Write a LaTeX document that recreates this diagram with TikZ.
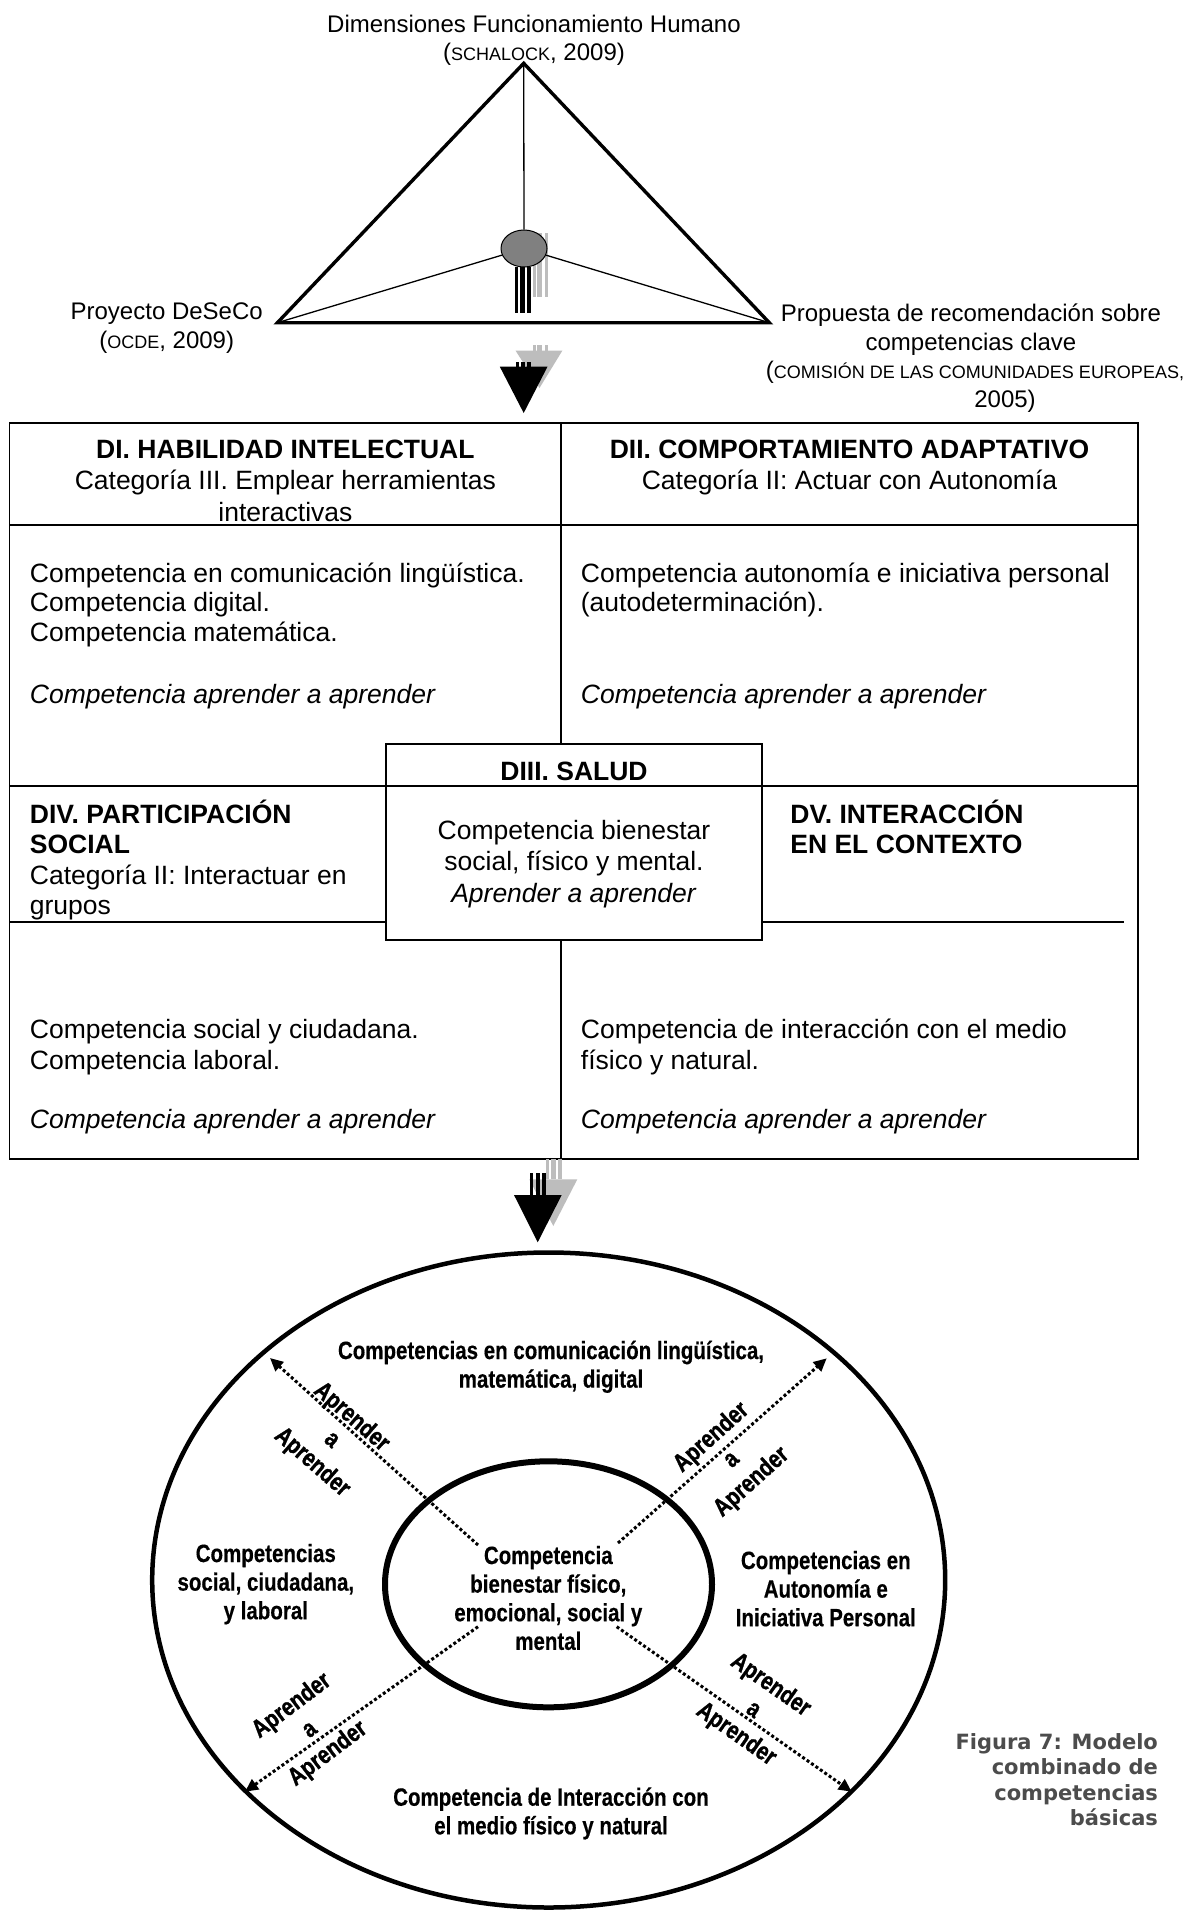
\documentclass[tikz,border=0pt]{standalone}
\usepackage{fontspec}
\setmainfont{Liberation Sans}
\newfontfamily\narrowsans[FakeStretch=0.82,FakeBold=0.4]{Liberation Sans}
\newfontfamily\heavynarrow[FakeStretch=0.82,FakeBold=1.1]{Liberation Sans}
\newfontfamily\captionsans{DejaVu Sans}
\usetikzlibrary{arrows.meta,shapes.geometric}

\definecolor{shadegray}{gray}{0.74}
\definecolor{hubgray}{gray}{0.5}
\definecolor{captiongray}{gray}{0.3}

% reduced capitals used in the references
\newcommand\refcaps[1]{{\fontsize{9pt}{10pt}\selectfont #1}}

% multi-line nodes below are anchored on the baseline of their last line
\begin{document}
\begin{tikzpicture}[x=0.5pt,y=-0.5pt,
  triline/.style={line width=1.7pt, line join=miter},
  spoke/.style={line width=0.65pt},
  boxline/.style={line width=0.85pt},
  shade/.style={fill=shadegray},
  reflabel/.style={inner sep=0pt, align=center, anchor=base,
    font=\fontsize{12pt}{14.2pt}\selectfont},
  cellhead/.style={inner sep=0pt, align=center, anchor=base,
    font=\fontsize{13.25pt}{15.75pt}\selectfont},
  celltext/.style={inner sep=0pt, align=left, anchor=base west,
    font=\fontsize{13.25pt}{15pt}\selectfont},
  ringtext/.style={inner sep=0pt, align=center, anchor=base,
    font=\narrowsans\bfseries\fontsize{12.5pt}{14.3pt}\selectfont},
  aaptext/.style={inner sep=0pt, align=center,
    font=\heavynarrow\bfseries\fontsize{12.5pt}{15pt}\selectfont},
  dotarrow/.style={line width=1.5pt, dash pattern=on 1.5pt off 1.2pt,
    -{Triangle[length=6.5pt,width=6pt]}},
]
\fill[white] (0,0) rectangle (1204,1912);
\useasboundingbox (0,0) rectangle (1204,1912);

% ---------- triangle of sources ----------
\coordinate (apex) at (523.7,63.3);
\coordinate (vl) at (277.4,322.7);
\coordinate (vr) at (769.3,322.7);

% grey shadow stripes behind the hub
\fill[shade] (532.5,233) rectangle (535.5,297);
\fill[shade] (537,233) rectangle (542,297);
\fill[shade] (544.5,233) rectangle (548,297);

\node (hub) [ellipse, draw, line width=0.5pt, fill=hubgray, inner sep=0pt,
  minimum width=23pt, minimum height=18.5pt] at (524,248.5) {};
\draw[spoke] (apex) -- (hub.north);
\draw[spoke] (hub) -- (vl);
\draw[spoke] (hub) -- (vr);
\draw[triline] (apex) -- (vl) -- (vr) -- cycle;

% black stripes under the hub
\fill (515,267) rectangle (518.4,313);
\fill (520.2,267) rectangle (524.7,313);
\fill (527.2,267) rectangle (530.7,313);

\node[reflabel] (tdim) at (534,60.4) {Dimensiones Funcionamiento Humano\\(\refcaps{SCHALOCK}, 2009)};
\node[reflabel] (tdes) at (166.7,348) {Proyecto DeSeCo\\(\refcaps{OCDE}, 2009)};
\node[reflabel] (tcom) at (971,350) {Propuesta de recomendación sobre\\competencias clave};
\node[reflabel] (tcom2) at (975,378.5) {(\refcaps{COMISIÓN DE LAS COMUNIDADES EUROPEAS,}};
\node[reflabel] (tcom3) at (1005,407) {2005)};

% ---------- first down arrow ----------
\fill[shade] (532.5,345) rectangle (535.5,350.7);
\fill[shade] (537,345) rectangle (542,350.7);
\fill[shade] (544.5,345) rectangle (548,350.7);
\fill[shade] (515.6,350.7) -- (562.3,350.7) -- (539.5,388) -- cycle;
\fill (515.6,361.7) rectangle (518.6,366.7);
\fill (520.6,361.7) rectangle (524.6,366.7);
\fill (527.2,361.7) rectangle (530.7,366.7);
\fill (499.8,366.7) -- (547.5,366.7) -- (523.7,413) -- cycle;

% ---------- table of dimensions ----------
\draw[boxline] (9.5,423) rectangle (1138,1159);
\draw[boxline] (9.5,525) -- (1138,525);
\draw[boxline] (561,423) -- (561,744);
\draw[boxline] (561,940) -- (561,1159);
\draw[boxline] (9.5,786) -- (1138,786);
\draw[boxline] (9.5,922) -- (386,922);
\draw[boxline] (762,922) -- (1123.5,922);
\draw[boxline] (386,744) rectangle (762,940);

\node[cellhead] (h1) at (285.4,521) {\textbf{DI. HABILIDAD INTELECTUAL}\\Categoría III. Emplear herramientas\\interactivas};
\node[cellhead] (h2) at (849.5,489.5) {\textbf{DII. COMPORTAMIENTO ADAPTATIVO}\\Categoría II: Actuar con Autonomía};
\node[celltext, font=\fontsize{13.25pt}{14.75pt}\selectfont] (b1) at (29.5,641) {Competencia en comunicación lingüística.\\Competencia digital.\\Competencia matemática.};
\node[celltext] (i1) at (29.5,703) {\textit{Competencia aprender a aprender}};
\node[celltext, font=\fontsize{13.25pt}{14.75pt}\selectfont] (b2) at (580.5,611.5) {Competencia autonomía e iniciativa personal\\(autodeterminación).};
\node[celltext] (i2) at (580.5,703) {\textit{Competencia aprender a aprender}};

\node[cellhead] (h3) at (574,780.5) {\textbf{DIII. SALUD}};
\node[cellhead, font=\fontsize{13.25pt}{15.8pt}\selectfont] (b3) at (574,902.5) {Competencia bienestar\\social, físico y mental.\\\textit{Aprender a aprender}};

\node[celltext, font=\fontsize{13.25pt}{15.15pt}\selectfont] (h4) at (29.5,914.4) {\textbf{DIV. PARTICIPACIÓN}\\\textbf{SOCIAL}\\Categoría II: Interactuar en\\grupos};
\node[celltext, font=\fontsize{13.25pt}{15.15pt}\selectfont] (h5) at (790,853.8) {\textbf{DV. INTERACCIÓN}\\\textbf{EN EL CONTEXTO}};

\node[celltext, font=\fontsize{13.25pt}{15.25pt}\selectfont] (b4) at (29.5,1069) {Competencia social y ciudadana.\\Competencia laboral.};
\node[celltext] (i4) at (29.5,1128.5) {\textit{Competencia aprender a aprender}};
\node[celltext, font=\fontsize{13.25pt}{15.25pt}\selectfont] (b5) at (580.5,1069) {Competencia de interacción con el medio\\físico y natural.};
\node[celltext] (i5) at (580.5,1128.5) {\textit{Competencia aprender a aprender}};

% ---------- second down arrow ----------
\fill[shade] (546,1159) rectangle (549,1179.3);
\fill[shade] (551,1159) rectangle (555.5,1179.3);
\fill[shade] (558,1159) rectangle (561.7,1179.3);
\fill[shade] (529.3,1179.3) -- (577.3,1179.3) -- (553.3,1226) -- cycle;
\fill (530,1173) rectangle (533.3,1195);
\fill (535.7,1173) rectangle (539.5,1195);
\fill (541.7,1173) rectangle (546,1195);
\fill (514,1195) -- (561.7,1195) -- (537.7,1242.3) -- cycle;

% ---------- combined model ----------
\draw[line width=2.25pt] (548.7,1580) ellipse [x radius=198.25pt, y radius=163.75pt];
\draw[line width=3pt] (548.5,1584.3) ellipse [x radius=81.75pt, y radius=61.5pt];

\coordinate (uls) at (478,1545);   \coordinate (ule) at (270,1358);
\coordinate (urs) at (618,1543);   \coordinate (ure) at (826.7,1358.3);
\coordinate (lls) at (478,1626.7); \coordinate (lle) at (245,1791.7);
\coordinate (lrs) at (616.7,1626.7); \coordinate (lre) at (851.7,1791.7);
\draw[dotarrow] (uls) -- (ule);
\draw[dotarrow] (urs) -- (ure);
\draw[dotarrow] (lls) -- (lle);
\draw[dotarrow] (lrs) -- (lre);

\node[ringtext] (rtop) at (551,1387.6) {Competencias en comunicación lingüística,\\matemática, digital};
\node[ringtext] (rleft) at (265.8,1619.2) {Competencias\\social, ciudadana,\\y laboral};
\node[ringtext] (rmid) at (548.3,1649.8) {Competencia\\bienestar físico,\\emocional, social y\\mental};
\node[ringtext] (rright) at (825.8,1626.2) {Competencias en\\Autonomía e\\Iniciativa Personal};
\node[ringtext] (rbot) at (551,1834.3) {Competencia de Interacción con\\el medio físico y natural};

\node[aaptext, rotate=-41] (aul) at (331.7,1440) {Aprender\\a\\Aprender};
\node[aaptext, rotate=42] (aur) at (731.7,1460) {Aprender\\a\\Aprender};
\node[aaptext, rotate=37] (all) at (310,1730) {Aprender\\a\\Aprender};
\node[aaptext, rotate=-35] (alr) at (753.3,1710) {Aprender\\a\\Aprender};

\node[inner sep=0pt, align=right, anchor=base east, text=captiongray,
  font=\captionsans\bfseries\fontsize{10.5pt}{12.8pt}\selectfont] (cap) at (1158.3,1825.8)
  {Figura 7: Modelo\\combinado de\\competencias\\básicas};
\end{tikzpicture}
\end{document}
